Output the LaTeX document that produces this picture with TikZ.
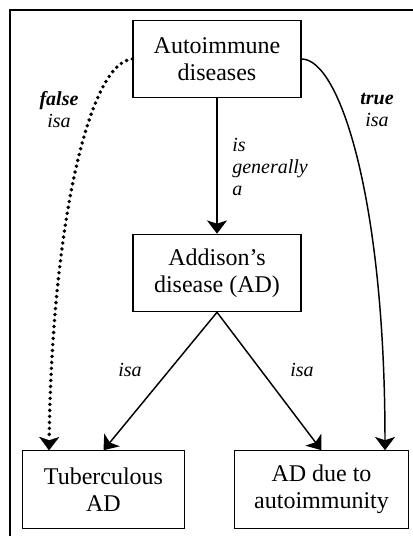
\documentclass[tikz,border=0pt]{standalone}
\usepackage{fontspec}
\setmainfont{Liberation Serif}
\usetikzlibrary{arrows.meta}
\tikzset{
  box/.style={draw, line width=0.9pt, align=center, minimum height=58pt,
    font=\fontsize{18}{20.5}\selectfont, inner sep=0pt},
  lab/.style={font=\fontsize{15}{16.5}\selectfont\itshape, inner sep=0pt},
  isa/.style={line width=1.1pt, -{Stealth[length=10pt,width=15pt,inset=2.5pt]}},
  dots/.style={line width=2.9pt, line cap=round, dash pattern=on 0pt off 4.5pt,
    -{Stealth[length=10pt,width=15pt,inset=2.5pt,line width=0.1pt,round=false]}}
}
\begin{document}
\begin{tikzpicture}[x=0.75pt,y=-0.75pt]
        \useasboundingbox (0,0) rectangle (412,536);
        \draw[line width=0.8pt] (10,536) -- (10,10) -- (413,10);

        \node[box, minimum width=126pt] (auto) at (217,59) {Autoimmune\\diseases};
        \node[box, minimum width=126pt] (add) at (217,273) {Addison’s\\disease (AD)};
        \node[box, minimum width=121pt] (tub) at (103.5,489.5) {Tuberculous\\AD};
        \node[box, minimum width=131pt] (due) at (321.5,489.5) {AD due to\\autoimmunity};

        \draw[isa] (auto) -- (add);
        \draw[isa] (add.south) -- (tub.north);
        \draw[isa] (add.south) -- (due.north);
        \draw[dots] (auto.west) .. controls (90,62) and (52,220) .. (tub.north west -| 49,0);
        \draw[isa] (auto.east) .. controls (340,59) and (385,200) .. (due.north east -| 385,0);

        \node[lab, align=center] (lfalse) at (59,110) {\textbf{false}\\isa};
        \node[lab, align=center] (ltrue) at (377,110) {\textbf{true}\\isa};
        \node[lab, align=left, anchor=north west] (lgen) at (232,138) {is\\generally\\a};
        \node[lab] (lleft) at (130,370) {isa};
        \node[lab] (lright) at (302,370) {isa};
    \end{tikzpicture}
\end{document}
